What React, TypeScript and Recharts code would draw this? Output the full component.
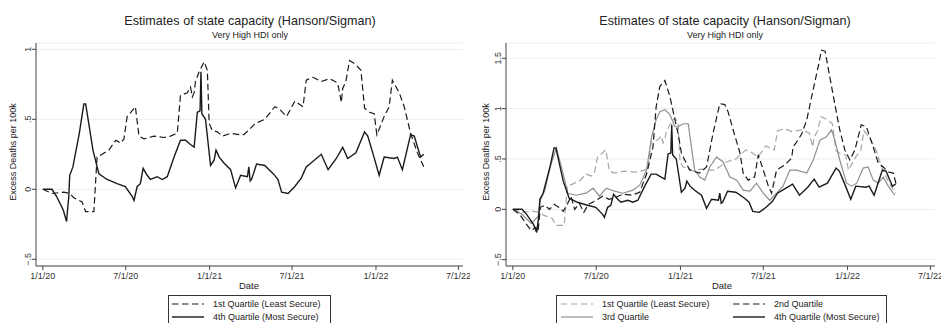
import React from 'react';
import { LineChart, Line, XAxis, YAxis, CartesianGrid } from 'recharts';

// days since 1/1/20
const tickDays = [0, 182, 366, 547, 731, 912];
const tickLabels = ['1/1/20', '7/1/20', '1/1/21', '7/1/21', '1/1/22', '7/1/22'];

const q1Days = [0, 20, 46, 59, 68, 86, 94, 112, 119, 130, 145, 160, 171, 178, 185, 193, 203, 211, 222, 244, 266, 280, 295, 302, 317, 324, 328, 332, 335, 343, 354, 361, 365, 372, 383, 394, 412, 430, 441, 451, 466, 487, 509, 520, 535, 553, 571, 578, 593, 611, 629, 647, 655, 658, 665, 673, 687, 698, 706, 717, 727, 733, 749, 760, 767, 782, 793, 807, 822, 836];
const q1Values = [0, -0.03, -0.02, -0.03, -0.06, -0.09, -0.16, -0.16, 0.23, 0.25, 0.28, 0.35, 0.33, 0.36, 0.52, 0.55, 0.59, 0.38, 0.36, 0.38, 0.37, 0.38, 0.4, 0.67, 0.69, 0.73, 0.66, 0.69, 0.77, 0.84, 0.91, 0.85, 0.47, 0.42, 0.41, 0.38, 0.4, 0.39, 0.39, 0.42, 0.47, 0.5, 0.59, 0.57, 0.52, 0.63, 0.59, 0.78, 0.8, 0.77, 0.79, 0.76, 0.62, 0.72, 0.77, 0.92, 0.89, 0.85, 0.58, 0.55, 0.54, 0.39, 0.52, 0.59, 0.78, 0.69, 0.59, 0.4, 0.26, 0.16];

const q2Days = [0, 15, 30, 40, 50, 55, 60, 70, 80, 90, 100, 110, 120, 127, 135, 145, 155, 165, 182, 196, 210, 225, 240, 260, 277, 292, 306, 313, 321, 332, 343, 354, 361, 368, 386, 408, 423, 437, 452, 463, 470, 481, 496, 503, 514, 528, 536, 547, 558, 565, 576, 583, 594, 609, 612, 623, 631, 642, 656, 667, 674, 682, 692, 703, 714, 725, 736, 747, 761, 772, 787, 798, 809, 820, 831, 838];
const q2Values = [0, -0.05, -0.15, -0.21, -0.18, -0.22, 0.02, 0.04, 0, 0.05, 0.02, -0.02, 0.06, 0.13, 0, 0.06, -0.03, 0.05, 0.09, 0.13, 0.1, 0.12, 0.15, 0.14, 0.17, 0.35, 0.62, 1.02, 1.22, 1.28, 1.12, 0.89, 0.75, 0.56, 0.39, 0.36, 0.42, 0.75, 1.05, 1.04, 0.97, 0.79, 0.56, 0.36, 0.29, 0.32, 0.54, 0.39, 0.23, 0.16, 0.39, 0.41, 0.44, 0.51, 0.62, 0.69, 0.75, 0.89, 1.19, 1.42, 1.58, 1.57, 1.32, 1.05, 0.79, 0.59, 0.49, 0.59, 0.84, 0.82, 0.62, 0.46, 0.42, 0.37, 0.36, 0.23];

const q3Days = [0, 20, 40, 55, 60, 70, 80, 95, 109, 120, 138, 160, 175, 189, 204, 222, 240, 262, 277, 292, 303, 313, 321, 332, 343, 354, 361, 372, 383, 390, 397, 408, 419, 430, 445, 459, 474, 489, 503, 518, 532, 547, 561, 576, 590, 605, 620, 642, 656, 671, 685, 696, 703, 714, 729, 740, 751, 765, 776, 787, 798, 809, 820, 834];
const q3Values = [0, -0.05, -0.14, -0.07, 0.09, 0.19, 0.4, 0.61, 0.37, 0.16, 0.14, 0.16, 0.21, 0.13, 0.21, 0.18, 0.16, 0.19, 0.24, 0.39, 0.72, 0.89, 0.97, 0.99, 0.94, 0.82, 0.82, 0.85, 0.85, 0.62, 0.39, 0.32, 0.29, 0.42, 0.52, 0.47, 0.32, 0.29, 0.19, 0.18, 0.26, 0.16, 0.09, 0.16, 0.23, 0.39, 0.39, 0.36, 0.49, 0.69, 0.72, 0.79, 0.69, 0.49, 0.26, 0.23, 0.26, 0.41, 0.42, 0.29, 0.26, 0.32, 0.23, 0.14];

const q4Days = [0, 20, 30, 45, 52, 57, 59, 66, 80, 90, 94, 110, 123, 141, 163, 181, 196, 200, 207, 214, 220, 229, 236, 251, 262, 273, 288, 302, 313, 324, 332, 339, 345, 347, 349, 357, 368, 376, 380, 387, 397, 412, 423, 434, 449, 452, 455, 458, 469, 487, 506, 516, 524, 538, 553, 567, 578, 589, 611, 626, 644, 658, 669, 687, 706, 713, 724, 738, 749, 771, 778, 789, 807, 815, 829, 836];
const q4Values = [0, 0, -0.05, -0.15, -0.23, -0.05, 0.1, 0.16, 0.4, 0.61, 0.61, 0.28, 0.11, 0.07, 0.04, 0.02, -0.05, -0.08, 0.02, 0.04, 0.15, 0.1, 0.07, 0.09, 0.07, 0.09, 0.23, 0.35, 0.35, 0.32, 0.3, 0.55, 0.56, 0.84, 0.54, 0.5, 0.17, 0.21, 0.28, 0.23, 0.19, 0.14, 0.01, 0.1, 0.09, 0.16, 0.06, 0.07, 0.18, 0.17, 0.11, 0.07, -0.02, -0.03, 0.02, 0.08, 0.16, 0.19, 0.25, 0.14, 0.22, 0.3, 0.22, 0.26, 0.41, 0.38, 0.26, 0.1, 0.23, 0.22, 0.23, 0.14, 0.39, 0.38, 0.23, 0.25];

const leftTicks = [-0.5, 0, 0.5, 1];
const rightTicks = [-0.5, 0, 0.5, 1, 1.5];

const toPoints = (days: number[], vals: number[]) => days.map((d, i) => ({ day: d, value: vals[i] }));

const q1 = toPoints(q1Days, q1Values);
const q2 = toPoints(q2Days, q2Values);
const q3 = toPoints(q3Days, q3Values);
const q4 = toPoints(q4Days, q4Values);

const FONT = '"Liberation Sans", Arial, Helvetica, sans-serif';
const DASH = '6.5 3.5';

const fmtY = (v: number) => {
  if (v === 0) return '0';
  const s = String(Math.abs(v)).replace(/^0/, '');
  return (v < 0 ? '\u2212' : '') + s;
};

const YTick = (props: any) => {
  const { x, y, payload } = props;
  const bx = x + 1;
  return (
    <text x={bx} y={y} transform={`rotate(-90 ${bx} ${y})`} textAnchor="middle" fontSize={9} fill="#333" fontFamily={FONT}>
      {fmtY(payload.value)}
    </text>
  );
};

const XTick = (props: any) => {
  const { x, y, payload } = props;
  const idx = tickDays.indexOf(payload.value);
  return (
    <text x={x} y={y + 6.5} textAnchor="middle" fontSize={9} fill="#333" fontFamily={FONT}>
      {tickLabels[idx]}
    </text>
  );
};

type Series = { data: { day: number; value: number }[]; color: string; dash?: string; width: number; name: string };

const Panel = ({ width, right, yDomain, yTicks, series }: { width: number; right: number; yDomain: number[]; yTicks: number[]; series: Series[] }) => (
  <LineChart width={width} height={323} margin={{ top: 43, right, bottom: 0, left: 0 }} style={{ overflow: 'visible' }}>
    <CartesianGrid horizontal vertical={false} stroke="#eeeeee" strokeWidth={1} />
    <XAxis
      type="number"
      dataKey="day"
      domain={[-15, 922]}
      ticks={tickDays}
      tick={<XTick />}
      tickSize={4}
      tickMargin={2}
      height={57}
      stroke="#444"
      allowDataOverflow
      interval={0}
    />
    <YAxis
      type="number"
      dataKey="value"
      domain={yDomain}
      ticks={yTicks}
      tick={<YTick />}
      tickSize={4}
      tickMargin={2}
      width={36}
      stroke="#444"
      allowDataOverflow
      interval={0}
    />
    {series.map((s) => (
      <Line
        key={s.name}
        data={s.data}
        dataKey="value"
        type="linear"
        stroke={s.color}
        strokeWidth={s.width}
        strokeDasharray={s.dash}
        dot={false}
        activeDot={false}
        isAnimationActive={false}
      />
    ))}
  </LineChart>
);

const leftSeries: Series[] = [
  { name: 'q1', data: q1, color: '#1a1a1a', dash: DASH, width: 1.2 },
  { name: 'q4', data: q4, color: '#1a1a1a', width: 1.4 },
];

const rightSeries: Series[] = [
  { name: 'q1', data: q1, color: '#a6a6a6', dash: DASH, width: 1.2 },
  { name: 'q3', data: q3, color: '#8f8f8f', width: 1.2 },
  { name: 'q2', data: q2, color: '#1a1a1a', dash: DASH, width: 1.2 },
  { name: 'q4', data: q4, color: '#1a1a1a', width: 1.4 },
];

const Titles = ({ cx, axisX, dateX }: { cx: number; axisX: number; dateX: number }) => (
  <g fontFamily={FONT} fill="#222">
    <text x={cx} y={25} textAnchor="middle" fontSize={12.6}>Estimates of state capacity (Hanson/Sigman)</text>
    <text x={cx} y={38} textAnchor="middle" fontSize={9}>Very High HDI only</text>
    <text x={axisX} y={152} transform={`rotate(-90 ${axisX} 152)`} textAnchor="middle" fontSize={9}>Excess Deaths per 100k</text>
    <text x={dateX} y={288.5} textAnchor="middle" fontSize={9.5}>Date</text>
  </g>
);

const LegendItem = ({ x, y, color, dash, width, label }: { x: number; y: number; color: string; dash?: string; width: number; label: string }) => (
  <g>
    <line x1={x} x2={x + 32} y1={y} y2={y} stroke={color} strokeWidth={width} strokeDasharray={dash} />
    <text x={x + 41} y={y + 3.2} fontSize={9} fill="#222" fontFamily={FONT}>{label}</text>
  </g>
);

export default function App() {
  return (
    <div style={{ position: 'absolute', left: 0, top: 0, width: 941, height: 323, background: '#fff', overflow: 'hidden' }}>
      <div style={{ position: 'absolute', left: 0, top: 0 }}>
        <Panel width={470} right={7} yDomain={[-0.548, 1.045]} yTicks={leftTicks} series={leftSeries} />
      </div>
      <div style={{ position: 'absolute', left: 470, top: 0 }}>
        <Panel width={471} right={6} yDomain={[-0.563, 1.652]} yTicks={rightTicks} series={rightSeries} />
      </div>
      <svg width={941} height={323} style={{ position: 'absolute', left: 0, top: 0, pointerEvents: 'none' }}>
        <Titles cx={250} axisX={16} dateX={249} />
        <Titles cx={725} axisX={489} dateX={722} />
        <rect x={168.5} y={295.5} width={162} height={40} fill="none" stroke="#333" strokeWidth={1} />
        <LegendItem x={172} y={304} color="#1a1a1a" dash={DASH} width={1.2} label="1st Quartile (Least Secure)" />
        <LegendItem x={172} y={317} color="#1a1a1a" width={1.4} label="4th Quartile (Most Secure)" />
        <rect x={556.5} y={295.5} width={330} height={40} fill="none" stroke="#333" strokeWidth={1} />
        <LegendItem x={561} y={304} color="#a6a6a6" dash={DASH} width={1.2} label="1st Quartile (Least Secure)" />
        <LegendItem x={733} y={304} color="#1a1a1a" dash={DASH} width={1.2} label="2nd Quartile" />
        <LegendItem x={561} y={317} color="#8f8f8f" width={1.2} label="3rd Quartile" />
        <LegendItem x={733} y={317} color="#1a1a1a" width={1.4} label="4th Quartile (Most Secure)" />
      </svg>
    </div>
  );
}
